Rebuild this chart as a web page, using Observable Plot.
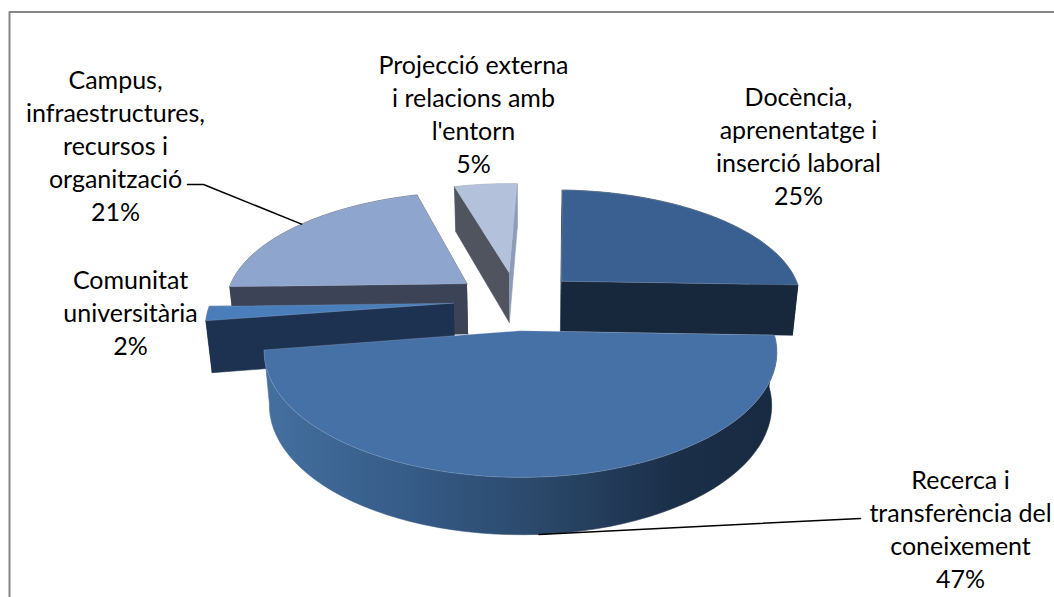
<!DOCTYPE html>
<html><head><meta charset="utf-8">
<style>html,body{margin:0;padding:0;background:#fff}svg{display:block}</style>
<script src="https://cdn.jsdelivr.net/npm/d3@7"></script>
<script src="https://cdn.jsdelivr.net/npm/@observablehq/plot@0.6"></script>
</head><body><div id="chart"></div>
<script>
const categories = ["Docència, aprenentatge i inserció laboral","Recerca i transferència del coneixement","Comunitat universitària","Campus, infraestructures, recursos i organització","Projecció externa i relacions amb l'entorn"];
const values = [25,47,2,21,5];
const labelLines = [["Docència,","aprenentatge i","inserció laboral"],["Recerca i","transferència del","coneixement"],["Comunitat","universitària"],["Campus,","infraestructures,","recursos i","organització"],["Projecció externa","i relacions amb","l'entorn"]];
const labelX = [798,960,130,115,473];
const labelY = [97,480,280,80,65];
const topColors = ["#3a6091","#4671a7","#4a7ebb","#8ea6cd","#b3c1db"];
const sideColors = ["#17283c","url(#recSide)","#1d3150","#3d4356","#8d9cb8"];
const cutColors = ["#17283c",null,"#1d3150","#3d4356","#50545f"];
const drawOrder = [3,4,0,2,1];

// 3-D pie model: disc coordinates projected in perspective
const X0=516,Y0=300,R=242,S=111.8,P=0.162,EXPLODE=0.26,ROT=2*Math.PI/180,SHRINK=0.02;
const rad=d3.pie().sort(null).startAngle(ROT).endAngle(2*Math.PI+ROT)(values);
const proj=(u,v,low)=>{
  const w=1-P*v; let x=X0+R*u/w, y=Y0+S*v/w;
  if(low){x+=(520-x)*SHRINK; y+=51+5*v;}
  return {x,y};
};
const slice=rad.map(a=>{
  const m=(a.startAngle+a.endAngle)/2;
  const ou=EXPLODE*Math.sin(m), ov=-EXPLODE*Math.cos(m);
  const pt=(t,low)=>proj(ou+Math.sin(t),ov-Math.cos(t),low);
  const apex=low=>proj(ou,ov,low);
  return {a,m,pt,apex};
});
const arc=(s,low)=>d3.range(0,61).map(i=>s.pt(s.a.startAngle+(s.a.endAngle-s.a.startAngle)*i/60,low));

const poly=(pts,fill,extra={})=>Plot.line(pts,{x:"x",y:"y",fill,stroke:fill,strokeWidth:0.6,curve:"linear",...extra});
const marks=[
  ()=>{
    const ns="http://www.w3.org/2000/svg";
    const defs=document.createElementNS(ns,"defs");
    defs.innerHTML=`<linearGradient id="recSide" x1="0" x2="1" y1="0" y2="0">
      <stop offset="0" stop-color="#44709f"/><stop offset="0.3" stop-color="#355a86"/>
      <stop offset="0.55" stop-color="#2a4768"/><stop offset="0.8" stop-color="#1b2f49"/><stop offset="1" stop-color="#182a40"/></linearGradient>`;
    return defs;
  },
  Plot.line([{x:9,y:597},{x:9,y:11.5},{x:1054,y:11.5}],{x:"x",y:"y",stroke:"#868686",strokeWidth:2,curve:"linear"})
];
for(const i of drawOrder){
  const s=slice[i];
  marks.push(poly([...arc(s,false),...arc(s,true).reverse()],sideColors[i]));
  const end=s.a.endAngle,st=s.a.startAngle;
  if(cutColors[i]){
    marks.push(poly([s.apex(false),s.pt(end,false),s.pt(end,true),s.apex(true)],i===4?sideColors[4]:cutColors[i]));
    marks.push(poly([s.apex(false),s.pt(st,false),s.pt(st,true),s.apex(true)],cutColors[i]));
  }
  marks.push(Plot.line([s.apex(false),...arc(s,false),s.apex(false)],{x:"x",y:"y",fill:topColors[i],stroke:"#c3cede",strokeWidth:0.8,strokeOpacity:0.3,curve:"linear"}));
}
// leader lines
const camp=slice[3], rec=slice[1];
marks.push(Plot.line([{x:187,y:184},{x:203,y:184},camp.pt(camp.m+0.03,false)],{x:"x",y:"y",stroke:"#000",strokeWidth:1.5,curve:"linear"}));
marks.push(Plot.line([{x:860,y:518},rec.pt(rec.m,true)],{x:"x",y:"y",stroke:"#000",strokeWidth:1.5,curve:"linear"}));
// labels
const labels=categories.map((c,i)=>({text:[...labelLines[i],values[i]+"%"].join("\n"),x:labelX[i],y:labelY[i]}));
marks.push(Plot.text(labels,{x:"x",y:"y",text:"text",textAnchor:"middle",lineAnchor:"top",lineHeight:1.32,dy:-15,fill:"#000",fontSize:25,fontFamily:"Lato"}));

const chart=Plot.plot({width:1054,height:597,margin:0,
  x:{domain:[0,1054],range:[0,1054],axis:null},
  y:{domain:[0,597],range:[0,597],axis:null},
  style:{background:"#fff",overflow:"hidden"},
  marks});
document.getElementById("chart").append(chart);
</script></body></html>
